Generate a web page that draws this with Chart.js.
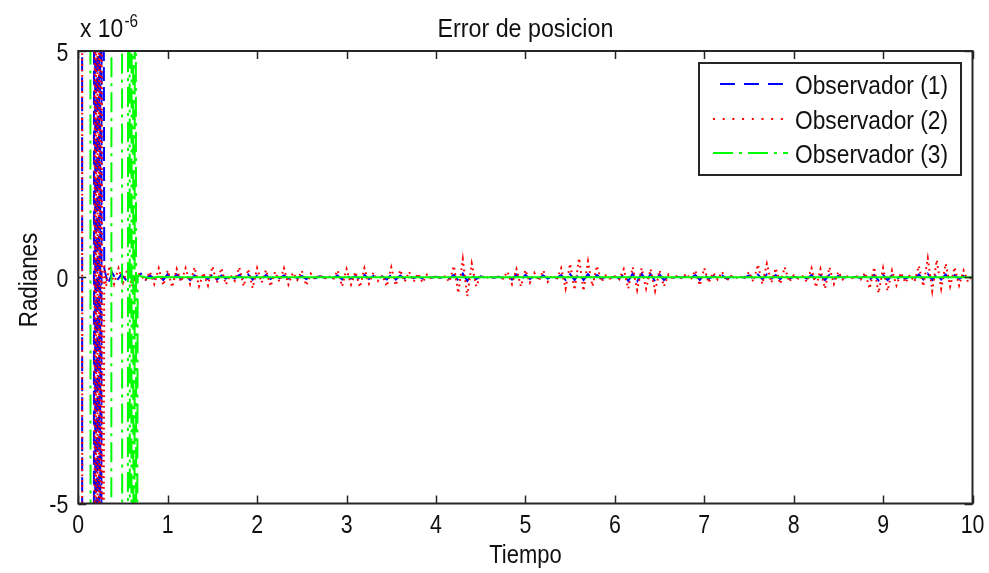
<!DOCTYPE html>
<html>
<head>
<meta charset="utf-8">
<script src="https://cdn.jsdelivr.net/npm/chart.js@4.4.1/dist/chart.umd.min.js"></script>
<style>
  html, body { margin: 0; padding: 0; background: #fff; }
  #contenedor { width: 989px; height: 573px; }
</style>
</head>
<body>
<div id="contenedor"><canvas id="graficoError" width="989" height="573"></canvas></div>
<script>
// Errores en unidades de 1e-6 rad (el eje lleva el factor "x 10^-6")

// Transitorio de cada observador: se sale de escala y oscila hasta ~0.3 s / ~0.66 s
const tTrans1 = [0.000, 0.040, 0.046, 0.052, 0.120, 0.172, 0.178, 0.186, 0.192, 0.200, 0.206, 0.214, 0.220, 0.228,
                 0.234, 0.242, 0.248, 0.256, 0.262, 0.270, 0.290, 0.330, 0.380, 0.430, 0.480, 0.530, 0.580, 0.630];
const eTrans1 = [60, 70, -65, -70, -75, -60, 55, 60, -50, -55, 45, 50, -40, -45,
                 35, 40, -30, -28, 25, 22, 0.2, -0.15, 0.1, -0.08, 0.06, -0.05, 0.04, -0.03];

const tTrans2 = [0.000, 0.040, 0.047, 0.055, 0.130, 0.180, 0.186, 0.196, 0.202, 0.212, 0.218, 0.228, 0.234,
                 0.244, 0.250, 0.260, 0.266, 0.290, 0.310, 0.350, 0.400, 0.450, 0.500, 0.550, 0.600, 0.650];
const eTrans2 = [55, 65, -60, -65, -70, -55, 50, 55, -48, -50, 42, 45, -38,
                 -40, 30, 32, -25, 0.3, -0.2, 0.25, -0.15, 0.2, -0.12, 0.18, -0.2, 0.1];

// El observador (3) tarda mas en converger pero despues queda en cero
const tObs3 = [0.000, 0.130, 0.142, 0.300, 0.365, 0.375, 0.450, 0.485, 0.495, 0.550, 0.560, 0.570, 0.580,
               0.590, 0.600, 0.610, 0.620, 0.626, 0.634, 0.641, 0.649, 0.656, 0.664, 0.700, 0.800, 0.900, 1.000, 10.000];
const eObs3 = [40, 45, -42, -40, -38, 36, 35, 33, -32, -30, 28, 27, -25,
               -24, 22, 21, -20, -18, 16, 15, -12, -10, 0.05, 0.02, -0.02, 0.01, 0, 0];

// Regimen estacionario: una muestra cada PASO segundos a partir de T_EST
const T_EST = 0.70;
const PASO = 0.05;

const eEst1 = [
  0.08, -0.05, 0.04, -0.03, 0.05, -0.06, 0.07, -0.05, 0.06, -0.04,
  0.05, -0.06, 0.04, -0.05, 0.03, -0.04, 0.06, -0.05, 0.04, -0.03,
  0.02, -0.03, 0.05, -0.04, 0.06, -0.05, 0.04, -0.03, 0.05, -0.04,
  0.03, -0.02, 0.04, -0.03, 0.02, -0.02, 0.03, -0.04, 0.02, -0.02,
  0.02, -0.01, 0.01, -0.02, 0.04, -0.05, 0.04, -0.03, 0.03, -0.05,
  0.05, -0.04, 0.03, -0.02, 0.02, -0.05, 0.06, -0.05, 0.04, -0.03,
  0.03, -0.02, 0.02, -0.03, 0.02, -0.01, 0.01, -0.01, 0.01, -0.03,
  0.05, -0.07, 0.08, -0.08, 0.06, -0.04, 0.02, -0.01, 0.01, -0.01,
  0.01, -0.01, 0.04, -0.05, 0.06, -0.06, 0.05, -0.04, 0.03, -0.02,
  0.04, -0.03, 0.02, -0.02, 0.05, -0.06, 0.07, -0.06, 0.08, -0.06,
  0.07, -0.05, 0.05, -0.03, 0.01, -0.01, 0.01, -0.02, 0.06, -0.08,
  0.08, -0.09, 0.08, -0.08, 0.07, -0.09, 0.06, -0.06, 0.03, -0.01,
  0.01, -0.01, 0.03, -0.02, 0.05, -0.06, 0.06, -0.04, 0.03, -0.02,
  0.04, -0.03, 0.01, -0.01, 0.01, -0.01, 0.04, -0.03, 0.06, -0.04,
  0.06, -0.04, 0.05, -0.04, 0.05, -0.03, 0.01, -0.01, 0.01, -0.03,
  0.05, -0.05, 0.04, -0.06, 0.05, -0.04, 0.03, -0.01, 0.01, -0.01,
  0.01, -0.02, 0.03, -0.06, 0.05, -0.07, 0.05, -0.06, 0.04, -0.04,
  0.03, -0.03, 0.02, -0.03, 0.06, -0.05, 0.08, -0.06, 0.07, -0.05,
  0.06, -0.04, 0.05, -0.04, 0.03, -0.02, 0.01
];

const eEst2 = [
  0.05, -0.08, 0.12, -0.15, 0.2, -0.18, 0.15, -0.22, 0.18, -0.1,
  0.2, -0.15, 0.22, -0.2, 0.1, -0.18, 0.24, -0.12, 0.2, -0.16,
  0.05, -0.08, 0.22, -0.2, 0.18, -0.24, 0.2, -0.12, 0.16, -0.2,
  0.12, -0.1, 0.2, -0.16, 0.1, -0.06, 0.14, -0.18, 0.08, -0.05,
  0.06, -0.04, 0.03, -0.05, 0.15, -0.2, 0.18, -0.16, 0.12, -0.22,
  0.2, -0.14, 0.1, -0.08, 0.04, -0.2, 0.22, -0.18, 0.16, -0.1,
  0.12, -0.1, 0.08, -0.12, 0.06, -0.04, 0.03, -0.02, 0.02, -0.1,
  0.25, -0.35, 0.4, -0.42, 0.3, -0.2, 0.05, -0.03, 0.02, -0.02,
  0.02, -0.03, 0.12, -0.15, 0.18, -0.2, 0.16, -0.12, 0.1, -0.08,
  0.15, -0.1, 0.05, -0.06, 0.2, -0.25, 0.3, -0.28, 0.42, -0.3,
  0.35, -0.2, 0.25, -0.1, 0.04, -0.03, 0.02, -0.05, 0.18, -0.25,
  0.22, -0.28, 0.2, -0.25, 0.18, -0.3, 0.15, -0.2, 0.06, -0.03,
  0.04, -0.02, 0.08, -0.05, 0.15, -0.18, 0.2, -0.12, 0.1, -0.05,
  0.12, -0.08, 0.03, -0.02, 0.02, -0.04, 0.12, -0.1, 0.28, -0.15,
  0.3, -0.12, 0.2, -0.15, 0.22, -0.1, 0.04, -0.03, 0.02, -0.1,
  0.2, -0.22, 0.18, -0.25, 0.22, -0.15, 0.12, -0.05, 0.02, -0.02,
  0.03, -0.05, 0.1, -0.25, 0.22, -0.35, 0.2, -0.3, 0.15, -0.18,
  0.1, -0.12, 0.05, -0.1, 0.25, -0.2, 0.42, -0.3, 0.38, -0.25,
  0.3, -0.2, 0.22, -0.18, 0.15, -0.1, 0.05
];

const nombres = ['Observador (1)', 'Observador (2)', 'Observador (3)'];
const colores = ['#0000ff', '#ff0000', '#00ff00'];
const trazosLeyenda = [[15, 9], [2, 7.7], [20, 6, 3, 6]];
const trazosCurva = [[14, 6], [1.8, 3.6], [20, 6, 3, 6]];

const FUENTE = '"Liberation Sans", Arial, Helvetica, sans-serif';

// texto comprimido en horizontal (la fuente de MATLAB es mas estrecha que Arial)
function texto(ctx, str, x, y, size, align, estrecho) {
  ctx.save();
  ctx.font = size + 'px ' + FUENTE;
  ctx.translate(x, y);
  ctx.scale(estrecho, 1);
  ctx.textAlign = align;
  ctx.textBaseline = 'alphabetic';
  ctx.fillText(str, 0, 0);
  ctx.restore();
}

function puntos(tt, ee) {
  return tt.map((t, i) => ({ x: t, y: ee[i] }));
}
function conEstacionario(tt, ee, est) {
  const pts = puntos(tt, ee);
  est.forEach((v, i) => pts.push({ x: +(T_EST + i * PASO).toFixed(2), y: v }));
  return pts;
}

const datosObs = [
  conEstacionario(tTrans1, eTrans1, eEst1),
  conEstacionario(tTrans2, eTrans2, eEst2),
  puntos(tObs3, eObs3)
];

// Marco, marcas hacia dentro, etiquetas, leyenda y textos al estilo de MATLAB
const marcoMatlab = {
  id: 'marcoMatlab',
  afterDatasetsDraw(chart) {
    const { ctx, chartArea: a, scales: { x, y } } = chart;
    ctx.save();
    ctx.strokeStyle = '#262626';
    ctx.lineWidth = 2;
    ctx.strokeRect(a.left, a.top, a.right - a.left, a.bottom - a.top);

    ctx.lineWidth = 1.5;
    ctx.beginPath();
    x.ticks.forEach(t => {
      const px = Math.round(x.getPixelForValue(t.value)) + 0.5;
      ctx.moveTo(px, a.bottom); ctx.lineTo(px, a.bottom - 8);
      ctx.moveTo(px, a.top); ctx.lineTo(px, a.top + 8);
    });
    y.ticks.forEach(t => {
      const py = Math.round(y.getPixelForValue(t.value)) + 0.5;
      ctx.moveTo(a.left, py); ctx.lineTo(a.left + 8, py);
      ctx.moveTo(a.right, py); ctx.lineTo(a.right - 8, py);
    });
    ctx.stroke();

    ctx.fillStyle = '#111';
    x.ticks.forEach(t => texto(ctx, t.label, x.getPixelForValue(t.value), a.bottom + 29, 26, 'center', 0.82));
    y.ticks.forEach(t => texto(ctx, t.label, a.left - 10, y.getPixelForValue(t.value) + 9.5, 26, 'right', 0.82));

    // leyenda
    const lx = a.right - 273.5, ly = a.top + 12, lw = 262, lh = 112;
    ctx.fillStyle = '#fff';
    ctx.fillRect(lx, ly, lw, lh);
    ctx.lineWidth = 2;
    ctx.strokeStyle = '#262626';
    ctx.strokeRect(lx, ly, lw, lh);
    const filas = [ly + 21, ly + 56, ly + 90];
    filas.forEach((fy, i) => {
      ctx.save();
      ctx.strokeStyle = colores[i];
      ctx.lineWidth = 2;
      ctx.setLineDash(trazosLeyenda[i]);
      ctx.beginPath();
      ctx.moveTo(i === 0 ? lx + 21 : lx + 14, fy);
      ctx.lineTo(lx + 89, fy);
      ctx.stroke();
      ctx.restore();
      ctx.fillStyle = '#111';
      texto(ctx, nombres[i], lx + 96, fy + 10, 26, 'left', 0.875);
    });
    ctx.restore();
  },
  afterDraw(chart) {
    const { ctx, chartArea: a } = chart;
    const cx = (a.left + a.right) / 2;
    ctx.save();
    ctx.fillStyle = '#111';
    texto(ctx, 'Error de posicion', cx, 37, 26, 'center', 0.895);
    texto(ctx, 'Tiempo', cx, 563, 26, 'center', 0.845);
    texto(ctx, 'x 10', 80, 37, 26, 'left', 0.88);
    texto(ctx, '-6', 124.5, 27, 18, 'left', 0.85);

    ctx.translate(36.5, 280);
    ctx.rotate(-Math.PI / 2);
    texto(ctx, 'Radianes', 0, 0, 26, 'center', 0.86);
    ctx.restore();
  }
};

new Chart(document.getElementById('graficoError'), {
  type: 'line',
  data: {
    datasets: datosObs.map((d, i) => ({
      label: nombres[i],
      data: d,
      borderColor: colores[i],
      borderWidth: 2,
      borderDash: trazosCurva[i],
      pointRadius: 0,
      tension: 0,
      order: 3 - i,
      segment: i === 2 ? { borderDash: c => (c.p0.parsed.x >= 0.66 ? [] : undefined) } : undefined
    }))
  },
  options: {
    responsive: false,
    animation: false,
    events: [],
    layout: { padding: { top: 51, right: 16.5, left: 0, bottom: 0 } },
    plugins: { legend: { display: false }, title: { display: false }, tooltip: { enabled: false } },
    scales: {
      x: {
        type: 'linear',
        min: 0, max: 10,
        ticks: { stepSize: 1, display: false },
        grid: { display: false, drawTicks: false },
        border: { display: false },
        afterFit(s) { s.height = 69.5; }
      },
      y: {
        min: -5, max: 5,
        ticks: { stepSize: 5, display: false },
        grid: { display: false, drawTicks: false },
        border: { display: false },
        afterFit(s) { s.width = 78.3; }
      }
    }
  },
  plugins: [marcoMatlab]
});
</script>
</body>
</html>
